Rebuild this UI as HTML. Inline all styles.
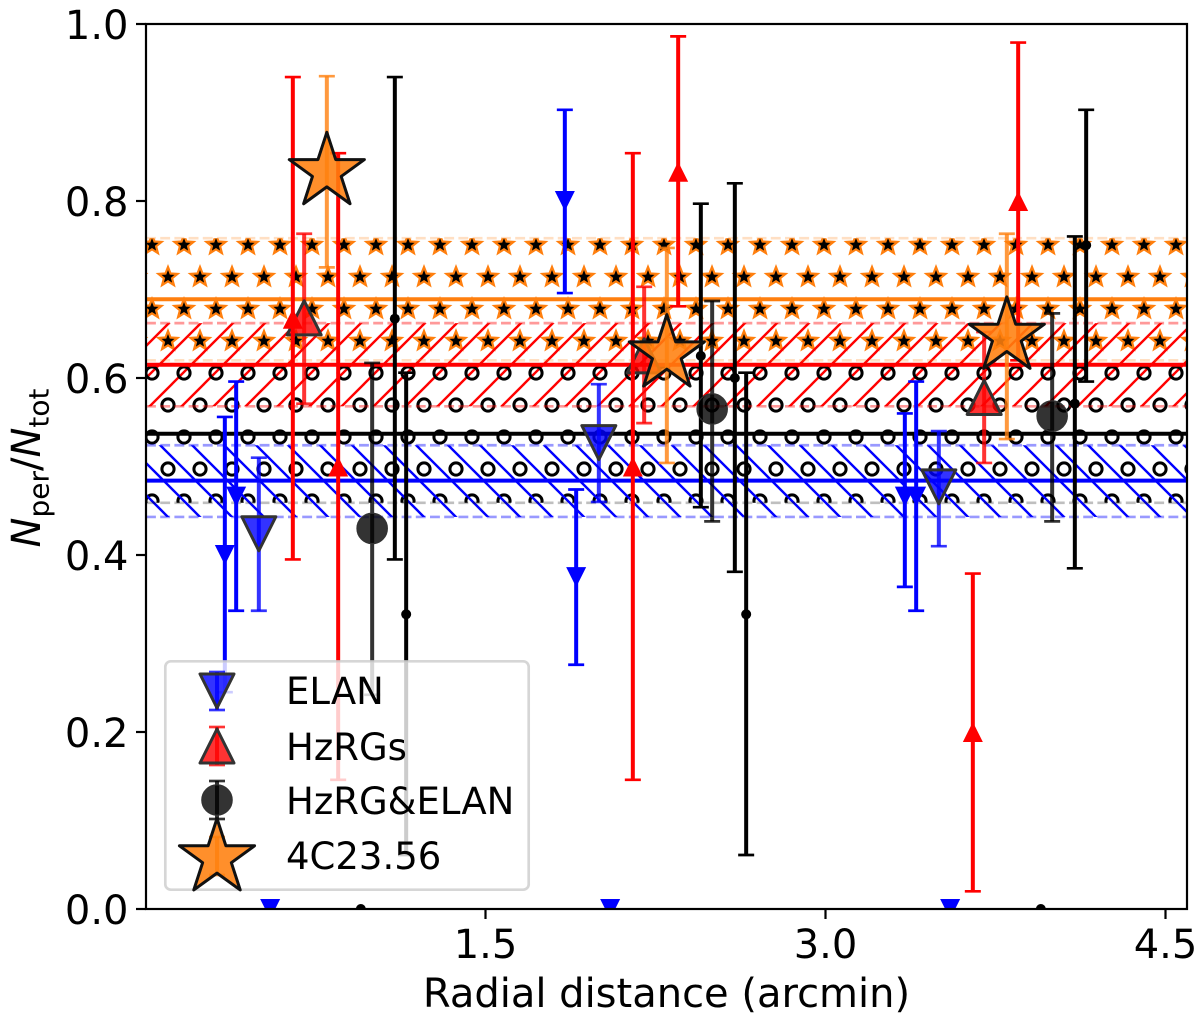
<!DOCTYPE html>
<html lang="en">
<head>
<meta charset="utf-8">
<title>Nper/Ntot versus radial distance</title>
<style>
html,body{margin:0;padding:0;background:#fff;}
svg{display:block;font-family:"DejaVu Sans","Liberation Sans",sans-serif;}
text{fill:#000;}
</style>
</head>
<body>
<svg id="chart" xmlns="http://www.w3.org/2000/svg" width="1200" height="1023" viewBox="0 0 1200 1023">
  <defs id="defs">
    <clipPath id="plot-clip"><rect x="146" y="24" width="1041" height="885"></rect></clipPath>
  </defs>
  <rect x="0" y="0" width="1200" height="1023" fill="#fff"></rect>
  <g id="bands" clip-path="url(#plot-clip)"></g>
  <g id="elan-layer" clip-path="url(#plot-clip)"></g>
  <g id="hzrg-layer" clip-path="url(#plot-clip)"></g>
  <g id="both-layer" clip-path="url(#plot-clip)"></g>
  <g id="star-layer" clip-path="url(#plot-clip)"></g>
  <g id="axes"></g>
  <text x="666.5" y="1007" font-size="40" text-anchor="middle">Radial distance (arcmin)</text>
  <text transform="translate(40,468) rotate(-90)" font-size="40" text-anchor="middle"><tspan font-style="italic">N</tspan><tspan font-size="28" dy="8.5">per</tspan><tspan dy="-8.5">/</tspan><tspan font-style="italic">N</tspan><tspan font-size="28" dy="8.5">tot</tspan></text>
  <g id="legend">
    <rect x="165.3" y="661.3" width="363.4" height="228.4" rx="5.5" ry="5.5" fill="#fff" fill-opacity="0.8" stroke="#ccc" stroke-opacity="0.8" stroke-width="2.67"></rect>
    <g id="legend-handles"></g>
    <text x="286" y="704" font-size="37">ELAN</text>
    <text x="286" y="760" font-size="37">HzRGs</text>
    <text x="286" y="814" font-size="37">HzRG&amp;ELAN</text>
    <text x="286" y="869" font-size="37">4C23.56</text>
  </g>
</svg>
<script>
// ---- Data ----
const xTicks = [1.5, 3.0, 4.5];
const xTickLabels = ['1.5', '3.0', '4.5'];
const yTicks = [0, 0.2, 0.4, 0.6, 0.8, 1.0];
const yTickLabels = ['0.0', '0.2', '0.4', '0.6', '0.8', '1.0'];

const elanX = [0.35, 0.40, 0.55, 1.85, 1.90, 2.05, 3.35, 3.40, 3.55];
const elanY = [0.40, 0.466, 0, 0.80, 0.375, 0, 0.466, 0.466, 0];
const elanLo = [0.245, 0.337, 0, 0.696, 0.276, 0, 0.364, 0.337, 0];
const elanHi = [0.556, 0.596, 0, 0.903, 0.474, 0, 0.56, 0.596, 0];
const elanAvgX = [0.50, 2.00, 3.50];
const elanAvgY = [0.424, 0.527, 0.477];
const elanAvgLo = [0.337, 0.46, 0.41];
const elanAvgHi = [0.51, 0.593, 0.54];

const hzrgX = [0.65, 0.85, 2.15, 2.35, 3.65, 3.85];
const hzrgY = [0.667, 0.50, 0.50, 0.833, 0.20, 0.80];
const hzrgLo = [0.395, 0.146, 0.146, 0.681, 0.02, 0.62];
const hzrgHi = [0.94, 0.854, 0.854, 0.986, 0.379, 0.979];
const hzrgAvgX = [0.70, 2.20, 3.70];
const hzrgAvgY = [0.668, 0.625, 0.578];
const hzrgAvgLo = [0.571, 0.549, 0.504];
const hzrgAvgHi = [0.763, 0.703, 0.652];

const bothX = [0.95, 1.10, 1.15, 2.45, 2.60, 2.65, 3.95, 4.10, 4.15];
const bothY = [0, 0.667, 0.333, 0.625, 0.60, 0.333, 0, 0.571, 0.75];
const bothLo = [0, 0.395, 0.061, 0.454, 0.381, 0.061, 0, 0.385, 0.596];
const bothHi = [0, 0.94, 0.606, 0.797, 0.82, 0.606, 0, 0.76, 0.903];
const bothAvgX = [1.00, 2.50, 4.00];
const bothAvgY = [0.43, 0.565, 0.557];
const bothAvgLo = [0.242, 0.438, 0.438];
const bothAvgHi = [0.617, 0.687, 0.673];

const starX = [0.80, 2.30, 3.80];
const starY = [0.833, 0.627, 0.647];
const starLo = [0.725, 0.504, 0.531];
const starHi = [0.941, 0.747, 0.763];

const bandMean = [0.689, 0.615, 0.537, 0.484];
const bandLower = [0.62, 0.568, 0.459, 0.443];
const bandUpper = [0.758, 0.662, 0.615, 0.524];

// ---- Axis functions ----
const xScale = v => 485.5 + (v - 1.5) * (340 / 1.5);
const yScale = v => 909 - v * 885;

const NS = 'http://www.w3.org/2000/svg';
const BLUE = '#0000ff', RED = '#ff0000', BLACK = '#000000', ORANGE = '#ff7f0e';

function mk(tag, parent) {
  const el = document.createElementNS(NS, tag);
  parent.appendChild(el);
  return el;
}
function seg(el, x1, y1, x2, y2) {
  el.setAttribute('x1', x1); el.setAttribute('y1', y1);
  el.setAttribute('x2', x2); el.setAttribute('y2', y2);
}
function starPoints(cx, cy, R, r) {
  const pts = [];
  for (let i = 0; i < 10; i++) {
    const a = -Math.PI / 2 + i * Math.PI / 5;
    const q = i % 2 ? r : R;
    pts.push((cx + q * Math.cos(a)).toFixed(2) + ',' + (cy + q * Math.sin(a)).toFixed(2));
  }
  return pts.join(' ');
}
function triPoints(cx, cy, h, up) {
  const s = up ? -1 : 1;
  return (cx - h) + ',' + (cy - s * h) + ' ' + (cx + h) + ',' + (cy - s * h) + ' ' + cx + ',' + (cy + s * h);
}

// ---- Hatch patterns ----
const defs = document.getElementById('defs');
function tile(id, x, y, w, h) {
  const p = mk('pattern', defs);
  p.setAttribute('id', id);
  p.setAttribute('patternUnits', 'userSpaceOnUse');
  p.setAttribute('x', x); p.setAttribute('y', y);
  p.setAttribute('width', w); p.setAttribute('height', h);
  return p;
}
const starTile = tile('hatch-star', 136, 229, 32, 64);
[[16, 16], [0, 48], [32, 48]].forEach(c => {
  const s = mk('polygon', starTile);
  s.setAttribute('points', starPoints(c[0], c[1], 10, 4.3));
  s.setAttribute('fill', '#000');
  s.setAttribute('stroke', ORANGE);
  s.setAttribute('stroke-width', '2.2');
  s.setAttribute('stroke-linejoin', 'miter');
  s.setAttribute('stroke-miterlimit', '10');
});
const ringTile = tile('hatch-ring', 136, 229, 32, 64);
[[16, 16], [0, 48], [32, 48]].forEach(c => {
  const s = mk('circle', ringTile);
  s.setAttribute('cx', c[0]); s.setAttribute('cy', c[1]); s.setAttribute('r', '6.1');
  s.setAttribute('fill', 'none');
  s.setAttribute('stroke', '#000');
  s.setAttribute('stroke-width', '3');
});
const slashTile = tile('hatch-slash', 12, 0, 32, 32);
[[-4, 36, 36, -4], [-4, 4, 4, -4], [28, 36, 36, 28]].forEach(c => {
  const s = mk('line', slashTile);
  seg(s, c[0], c[1], c[2], c[3]);
  s.setAttribute('stroke', RED);
  s.setAttribute('stroke-width', '2.4');
});
const backTile = tile('hatch-back', 3, 0, 32, 32);
[[-4, -4, 36, 36], [-4, 28, 4, 36], [28, -4, 36, 4]].forEach(c => {
  const s = mk('line', backTile);
  seg(s, c[0], c[1], c[2], c[3]);
  s.setAttribute('stroke', BLUE);
  s.setAttribute('stroke-width', '2.4');
});

// ---- Horizontal bands ----
const bandColors = [ORANGE, RED, BLACK, BLUE];
const bandHatch = ['hatch-star', 'hatch-slash', 'hatch-ring', 'hatch-back'];
const bandAlpha = [0.25, 0.4, 0.25, 0.4];
const bandsG = document.getElementById('bands');
bandMean.forEach((m, i) => {
  const top = yScale(bandUpper[i]), bot = yScale(bandLower[i]);
  const r = mk('rect', bandsG);
  
  
  r.setAttribute('x', xScale(0));
  r.setAttribute('y', top);
  r.setAttribute('width', 1060);
  r.setAttribute('height', bot - top);
  r.setAttribute('fill', 'url(#' + bandHatch[i] + ')');
});
bandMean.forEach((m, i) => {
  [bandUpper[i], bandLower[i]].forEach(v => {
    const d = mk('line', bandsG);
    
    
    seg(d, 146, yScale(v), 1187, yScale(v));
    d.setAttribute('stroke', bandColors[i]);
    d.setAttribute('stroke-opacity', bandAlpha[i]);
    d.setAttribute('stroke-width', '2.67');
    d.setAttribute('stroke-dasharray', '9.9 4.3');
  });
});
[0, 2, 1, 3].forEach(i => {
  const l = mk('line', bandsG);
  
  
  seg(l, 146, yScale(bandMean[i]), 1187, yScale(bandMean[i]));
  l.setAttribute('stroke', bandColors[i]);
  l.setAttribute('stroke-width', '4');
});

// ---- Marks ----
function bars(g, px, top, bot, color, alpha) {
  const v = mk('line', g);
  
  
  seg(v, px, top, px, bot);
  v.setAttribute('stroke', color);
  v.setAttribute('stroke-width', '4');
  v.setAttribute('stroke-opacity', alpha);
  [top, bot].forEach(c => {
    const k = mk('line', g);
    
    
    seg(k, px - 8, c, px + 8, c);
    k.setAttribute('stroke', color);
    k.setAttribute('stroke-width', '2.67');
    k.setAttribute('stroke-opacity', alpha);
  });
}
function glyph(g, kind, px, py, big, color) {
  let m;
  if (kind === 'circle') {
    m = mk('circle', g);
    m.setAttribute('cx', px); m.setAttribute('cy', py);
    m.setAttribute('r', big ? 15.2 : 5);
  } else if (kind === 'star') {
    m = mk('polygon', g);
    m.setAttribute('points', starPoints(px, py, 39.5, 15.1));
  } else {
    m = mk('polygon', g);
    m.setAttribute('points', triPoints(px, py, big ? 17 : 10, kind === 'up'));
  }
  
  
  m.setAttribute('fill', color);
  if (big) {
    m.setAttribute('fill-opacity', kind === 'star' ? '0.88' : '0.8');
    m.setAttribute('stroke', kind === 'star' ? '#111' : '#333');
    m.setAttribute('stroke-width', kind === 'circle' ? '1.2' : '3');
    m.setAttribute('stroke-linejoin', 'round');
  }
}
function drawSeries(layerId, xs, ys, los, his, kind, big, color) {
  const g = document.getElementById(layerId);
  xs.forEach((x, i) => {
    const px = xScale(x);
    if (los[i] !== his[i]) bars(g, px, yScale(his[i]), yScale(los[i]), color, big ? 0.8 : 1);
    glyph(g, kind, px, yScale(ys[i]), big, color);
  });
}
drawSeries('elan-layer', elanX, elanY, elanLo, elanHi, 'down', false, BLUE);
drawSeries('elan-layer', elanAvgX, elanAvgY, elanAvgLo, elanAvgHi, 'down', true, BLUE);
drawSeries('hzrg-layer', hzrgAvgX, hzrgAvgY, hzrgAvgLo, hzrgAvgHi, 'up', true, RED);
drawSeries('hzrg-layer', hzrgX, hzrgY, hzrgLo, hzrgHi, 'up', false, RED);
drawSeries('both-layer', bothX, bothY, bothLo, bothHi, 'circle', false, BLACK);
drawSeries('both-layer', bothAvgX, bothAvgY, bothAvgLo, bothAvgHi, 'circle', true, BLACK);
drawSeries('star-layer', starX, starY, starLo, starHi, 'star', true, ORANGE);

// ---- Axes ----
const axes = document.getElementById('axes');
const frame = mk('rect', axes);


frame.setAttribute('x', 146); frame.setAttribute('y', 24);
frame.setAttribute('width', 1041); frame.setAttribute('height', 885);
frame.setAttribute('fill', 'none');
frame.setAttribute('stroke', '#000');
frame.setAttribute('stroke-width', '2.2');
xTicks.forEach((v, i) => {
  const t = mk('line', axes);
  
  
  seg(t, xScale(v), 909, xScale(v), 919);
  t.setAttribute('stroke', '#000');
  t.setAttribute('stroke-width', '2.2');
  const l = mk('text', axes);
  
  
  l.setAttribute('x', xScale(v));
  l.setAttribute('y', 958);
  l.setAttribute('font-size', '40');
  l.setAttribute('text-anchor', 'middle');
  l.textContent = xTickLabels[i];
});
yTicks.forEach((v, i) => {
  const t = mk('line', axes);
  
  
  seg(t, 136, yScale(v), 146, yScale(v));
  t.setAttribute('stroke', '#000');
  t.setAttribute('stroke-width', '2.2');
  const l = mk('text', axes);
  
  
  l.setAttribute('x', 128.5);
  l.setAttribute('y', yScale(v) + 15);
  l.setAttribute('font-size', '40');
  l.setAttribute('text-anchor', 'end');
  l.textContent = yTickLabels[i];
});

// ---- Legend handles ----
const lh = document.getElementById('legend-handles');
const handleX = 217;
bars(lh, handleX, 672, 710, BLUE, 0.8);
glyph(lh, 'down', handleX, 691, true, BLUE);
bars(lh, handleX, 727, 765, RED, 0.8);
glyph(lh, 'up', handleX, 746, true, RED);
bars(lh, handleX, 781, 819, BLACK, 0.8);
glyph(lh, 'circle', handleX, 800, true, BLACK);
bars(lh, handleX, 837, 875, ORANGE, 0.8);
glyph(lh, 'star', handleX, 858, true, ORANGE);
</script>
</body>
</html>
